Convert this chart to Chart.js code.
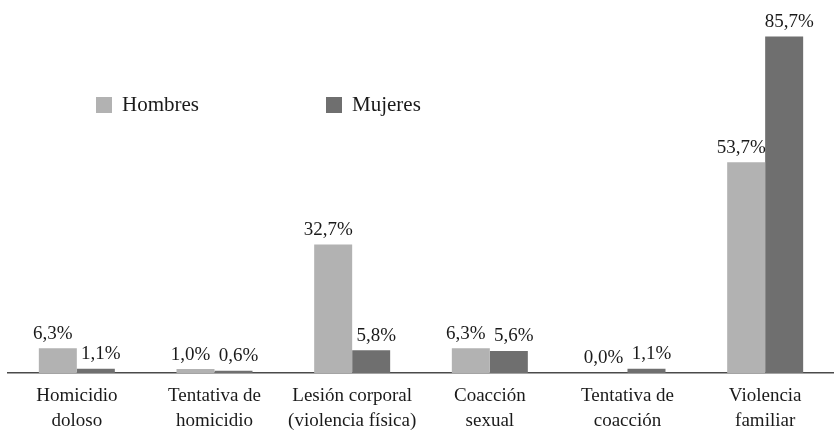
<!DOCTYPE html>
<html>
<head>
<meta charset="utf-8">
<script src="https://cdn.jsdelivr.net/npm/chart.js@4/dist/chart.umd.min.js"></script>
<style>
  html, body { margin: 0; padding: 0; background: #fff; }
  #wrap { width: 834px; height: 433px; position: relative; }
</style>
</head>
<body>
<div id="wrap"><canvas id="chart"></canvas></div>
<script>
var categorias = [
    ['Homicidio', 'doloso'],
    ['Tentativa de', 'homicidio'],
    ['Lesión corporal', '(violencia física)'],
    ['Coacción', 'sexual'],
    ['Tentativa de', 'coacción'],
    ['Violencia', 'familiar']
];
var hombres = [6.3, 1.0, 32.7, 6.3, 0.0, 53.7];
var mujeres = [1.1, 0.6, 5.8, 5.6, 1.1, 85.7];
var series = ['Hombres', 'Mujeres'];

var fuente = '"Liberation Serif", "DejaVu Serif", serif';

function formato(v){
    return v.toFixed(1).replace('.', ',') + '%';
}

// etiquetas encima de cada barra (un poco hacia fuera del grupo)
var etiquetas = {
    id: 'etiquetas',
    afterDatasetsDraw: function(chart){
        var ctx = chart.ctx;
        ctx.save();
        ctx.font = '19px ' + fuente;
        ctx.fillStyle = '#1a1a1a';
        ctx.textAlign = 'center';
        ctx.textBaseline = 'bottom';
        chart.data.datasets.forEach(function(ds, i){
            var dx = i == 0 ? -5 : 5;
            chart.getDatasetMeta(i).data.forEach(function(bar, j){
                ctx.fillText(formato(ds.data[j]), bar.x + dx, bar.y - 5);
            });
        });
        ctx.restore();
    }
};

// leyenda dentro del área del gráfico
var leyenda = {
    id: 'leyenda',
    afterDraw: function(chart){
        var ctx = chart.ctx;
        ctx.save();
        ctx.font = '21px ' + fuente;
        ctx.textBaseline = 'middle';
        chart.data.datasets.forEach(function(ds, i){
            var x = 96 + i * 230;
            var y = 105;
            ctx.fillStyle = ds.backgroundColor;
            ctx.fillRect(x, y - 8, 16, 16);
            ctx.fillStyle = '#1a1a1a';
            ctx.fillText(ds.label, x + 26, y);
        });
        ctx.restore();
    }
};

new Chart(document.getElementById('chart'), {
    type: 'bar',
    data: {
        labels: categorias,
        datasets: [{
            label: series[0],
            data: hombres,
            backgroundColor: '#b2b2b2'
        }, {
            label: series[1],
            data: mujeres,
            backgroundColor: '#6f6f6f'
        }]
    },
    options: {
        responsive: true,
        maintainAspectRatio: false,
        animation: false,
        layout: { padding: { left: 8, right: 0, top: 0, bottom: 0 } },
        datasets: {
            bar: { categoryPercentage: 0.552, barPercentage: 1.0 }
        },
        plugins: {
            legend: { display: false },
            tooltip: { enabled: false }
        },
        scales: {
            x: {
                grid: { display: false, drawTicks: false },
                border: { display: true, color: '#4a4a4a', width: 1.5 },
                ticks: {
                    color: '#1a1a1a',
                    padding: 10,
                    maxRotation: 0,
                    autoSkip: false,
                    font: { family: fuente, size: 19, lineHeight: 1.35 }
                },
                afterFit: function(scale){ scale.height = 60; }
            },
            y: {
                display: false,
                min: 0,
                max: 95
            }
        }
    },
    plugins: [etiquetas, leyenda]
});
</script>
</body>
</html>
